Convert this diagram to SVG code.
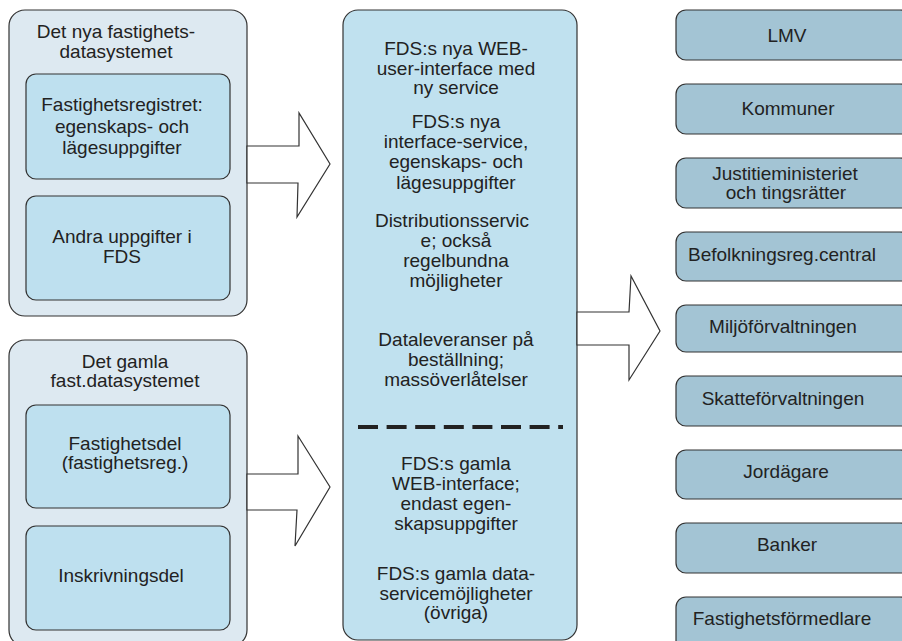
<svg xmlns="http://www.w3.org/2000/svg" width="902" height="641" viewBox="0 0 902 641">
<style>
text{font-family:"Liberation Sans",Arial,sans-serif;font-size:19px;fill:#222;text-anchor:middle}
.outer{fill:#dde9f1;stroke:#333;stroke-width:1.2}
.inner{fill:#bee0ef;stroke:#333;stroke-width:1.2}
.mid{fill:#c0e1ef;stroke:#333;stroke-width:1.2}
.dest{fill:#a3c4d4;stroke:#333;stroke-width:1.2}
.arrow{fill:#fff;stroke:#333;stroke-width:1.2;stroke-linejoin:miter}
</style>
<rect width="902" height="641" fill="#fff"/>
<g id="new-system">
<rect class="outer" x="9" y="10" width="238" height="306" rx="16"/>
<text x="116" y="38">Det nya fastighets-</text>
<text x="116" y="58">datasystemet</text>
</g>
<g id="fastighetsregistret">
<rect class="inner" x="26" y="74" width="204" height="105" rx="10"/>
<text x="122" y="111">Fastighetsregistret:</text>
<text x="122" y="133">egenskaps- och</text>
<text x="122" y="154">lägesuppgifter</text>
</g>
<g id="andra">
<rect class="inner" x="26" y="196" width="204" height="104" rx="10"/>
<text x="122" y="243">Andra uppgifter i</text>
<text x="122" y="263">FDS</text>
</g>
<g id="old-system">
<rect class="outer" x="9" y="340" width="238" height="306" rx="16"/>
<text x="125" y="368">Det gamla</text>
<text x="125" y="387">fast.datasystemet</text>
</g>
<g id="fastighetsdel">
<rect class="inner" x="26" y="405" width="204" height="103" rx="10"/>
<text x="125" y="450">Fastighetsdel</text>
<text x="125" y="469">(fastighetsreg.)</text>
</g>
<g id="inskrivningsdel">
<rect class="inner" x="26" y="526" width="204" height="104" rx="10"/>
<text x="121" y="582">Inskrivningsdel</text>
</g>
<g id="fds">
<rect class="mid" x="343" y="10" width="234" height="630" rx="15"/>
<text x="456" y="55">FDS:s nya WEB-</text>
<text x="456" y="75">user-interface med</text>
<text x="456" y="94">ny service</text>
<text x="456" y="128">FDS:s nya</text>
<text x="456" y="148">interface-service,</text>
<text x="456" y="168">egenskaps- och</text>
<text x="456" y="189">lägesuppgifter</text>
<text x="452" y="227">Distributionsservic</text>
<text x="456" y="247">e; också</text>
<text x="456" y="267">regelbundna</text>
<text x="456" y="287">möjligheter</text>
<text x="456" y="346">Dataleveranser på</text>
<text x="456" y="366">beställning;</text>
<text x="456" y="386">massöverlåtelser</text>
<line x1="358" y1="427" x2="563" y2="427" stroke="#222" stroke-width="4" stroke-dasharray="20 8.6"/>
<text x="456" y="470">FDS:s gamla</text>
<text x="456" y="490">WEB-interface;</text>
<text x="456" y="510">endast egen-</text>
<text x="456" y="530">skapsuppgifter</text>
<text x="456" y="580">FDS:s gamla data-</text>
<text x="456" y="600">servicemöjligheter</text>
<text x="456" y="619">(övriga)</text>
</g>
<g id="d-lmv"><rect class="dest" x="676" y="10" width="234" height="50" rx="10"/><text x="787" y="42">LMV</text></g>
<g id="d-kommuner"><rect class="dest" x="676" y="84" width="234" height="50" rx="10"/><text x="788" y="115">Kommuner</text></g>
<g id="d-justitie"><rect class="dest" x="676" y="158" width="234" height="50" rx="10"/><text x="785" y="180">Justitieministeriet</text><text x="786" y="199">och tingsrätter</text></g>
<g id="d-befolk"><rect class="dest" x="676" y="232" width="234" height="49" rx="10"/><text x="782" y="261">Befolkningsreg.central</text></g>
<g id="d-miljo"><rect class="dest" x="676" y="305" width="234" height="47" rx="10"/><text x="783" y="333">Miljöförvaltningen</text></g>
<g id="d-skatte"><rect class="dest" x="676" y="376" width="234" height="50" rx="10"/><text x="783" y="405">Skatteförvaltningen</text></g>
<g id="d-jord"><rect class="dest" x="676" y="450" width="234" height="49" rx="10"/><text x="786" y="478">Jordägare</text></g>
<g id="d-banker"><rect class="dest" x="676" y="523" width="234" height="50" rx="10"/><text x="787" y="551">Banker</text></g>
<g id="d-formedlare"><rect class="dest" x="676" y="597" width="234" height="60" rx="10"/><text x="782" y="625">Fastighetsförmedlare</text></g>
<g id="connectors">
<polygon class="arrow" points="247,146 299,146 299,113 330,164 297,217 298,183 247,183"/>
<polygon class="arrow" points="247,474 298,474 298,436 330,487 295,546 297,510 247,510"/>
<polygon class="arrow" points="577,312 629,312 631,276 660,331 629,380 629,345 577,345"/>
</g>
</svg>
